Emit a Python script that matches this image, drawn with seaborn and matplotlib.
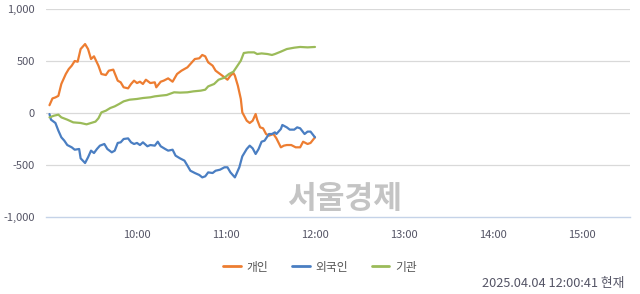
import numpy as np
import pandas as pd
import matplotlib
matplotlib.use("Agg")
import matplotlib.pyplot as plt
import seaborn as sns
from matplotlib.lines import Line2D

# minutes after 09:00 and values
ind_min = [1, 3, 5, 7, 9, 12, 14, 16, 18, 20, 22, 25, 27, 29, 31, 34, 36, 39, 41, 44, 47, 49, 51, 54,
           56, 58, 60, 62, 64, 66, 69, 72, 73, 76, 78, 81, 84, 87, 90, 94, 96, 99, 102, 104, 106, 108,
           111, 113, 116, 119, 121, 123, 125, 126, 128, 130, 131, 134, 136, 138, 140, 141, 143, 145,
           147, 149, 152, 154, 157, 159, 161, 164, 167, 170, 172, 175, 177, 180]
ind_val = [75, 140, 150, 165, 280, 375, 423, 455, 500, 493, 615, 663, 615, 519, 545, 455, 375, 365, 407,
           417, 311, 295, 247, 237, 279, 311, 288, 301, 279, 320, 288, 295, 247, 301, 311, 333, 301, 375,
           407, 439, 471, 519, 526, 558, 545, 487, 455, 407, 375, 343, 320, 359, 385, 359, 263, 135, 6,
           -74, -96, -74, -10, -64, -138, -147, -202, -218, -202, -244, -330, -314, -308, -308, -330,
           -330, -276, -298, -288, -234]

for_min = [1, 2, 5, 7, 9, 11, 13, 16, 18, 21, 22, 25, 27, 29, 31, 33, 35, 38, 40, 43, 45, 47, 49, 51,
           54, 56, 58, 60, 62, 64, 67, 69, 72, 74, 76, 79, 81, 84, 86, 89, 92, 94, 96, 99, 102, 104, 106,
           108, 111, 113, 116, 119, 121, 123, 126, 127, 129, 131, 134, 136, 138, 140, 142, 144, 146, 149,
           151, 153, 154, 157, 158, 161, 163, 166, 168, 170, 173, 175, 177, 180]
for_val = [-10, -64, -96, -170, -234, -266, -308, -330, -353, -346, -436, -481, -426, -362, -385, -346,
           -314, -298, -346, -378, -362, -288, -282, -250, -244, -282, -298, -288, -308, -282, -320,
           -308, -314, -276, -320, -346, -362, -353, -410, -436, -458, -506, -555, -577, -596, -619,
           -609, -571, -577, -555, -545, -522, -522, -571, -619, -587, -522, -417, -346, -314, -340,
           -394, -346, -276, -266, -202, -202, -186, -202, -154, -115, -138, -160, -160, -138, -147,
           -202, -179, -179, -234]

ins_min = [1, 4, 7, 9, 13, 17, 22, 26, 29, 32, 34, 36, 39, 42, 45, 48, 51, 55, 60, 64, 69, 72, 76, 80,
           85, 89, 94, 98, 103, 106, 108, 112, 115, 119, 122, 125, 127, 130, 132, 135, 139, 141, 144,
           148, 151, 153, 157, 161, 166, 170, 175, 180]
ins_val = [-42, -26, -16, -42, -64, -90, -96, -109, -96, -83, -51, 6, 22, 48, 64, 87, 112, 128, 135,
           144, 151, 160, 167, 173, 199, 196, 199, 208, 215, 224, 256, 279, 320, 340, 375, 397, 439,
           503, 577, 583, 583, 567, 573, 567, 558, 567, 590, 615, 628, 635, 631, 635]

series_names = ["개인", "외국인", "기관"]
colors = ["#ED7D31", "#4A7EC2", "#9BBB59"]
tick_minutes = [60, 120, 180, 240, 300, 360]
tick_labels = ["10:00", "11:00", "12:00", "13:00", "14:00", "15:00"]
y_ticks = [-1000, -500, 0, 500, 1000]
y_labels = ["-1,000", "-500", "0", "500", "1,000"]

df = pd.concat([
    pd.DataFrame({"min": ind_min, "val": ind_val, "who": series_names[0]}),
    pd.DataFrame({"min": for_min, "val": for_val, "who": series_names[1]}),
    pd.DataFrame({"min": ins_min, "val": ins_val, "who": series_names[2]}),
], ignore_index=True)

sns.set_theme(style="white")
plt.rcParams["font.family"] = ["Noto Sans CJK KR", "DejaVu Sans"]

fig = plt.figure(figsize=(6.4, 2.94), dpi=100)
ax = fig.add_axes([46 / 640, 1 - 217 / 294, 584 / 640, 208 / 294])

for y in [-500, 0, 500, 1000]:
    ax.axhline(y, color="#d9d9d9", lw=0.9, zorder=0)

sns.lineplot(data=df, x="min", y="val", hue="who", palette=colors, hue_order=series_names,
             lw=1.6, ax=ax, legend=False, estimator=None, sort=True)

ax.set_xlim(-1.35, 392.4)
ax.set_ylim(-1000, 1000)
ax.set_xticks(tick_minutes)
ax.set_xticklabels(tick_labels)
ax.set_yticks(y_ticks)
ax.set_yticklabels(y_labels)
ax.set_xlabel("")
ax.set_ylabel("")
for s in ["top", "right", "left"]:
    ax.spines[s].set_visible(False)
ax.spines["bottom"].set_color("#c5d3e8")
ax.spines["bottom"].set_linewidth(1.0)
ax.tick_params(axis="x", direction="out", length=5, width=1, color="#c5d3e8",
               labelsize=8, labelcolor="#555566", pad=4)
ax.tick_params(axis="y", length=0, labelsize=8, labelcolor="#555566", pad=8)

# watermark
fig.text(345 / 640, 1 - 199 / 294, "서울경제", fontsize=22.5, fontweight="bold",
         color="#c4c4c4", ha="center", va="center")

# legend
handles = [Line2D([0], [0], color=c, lw=2) for c in colors]
fig.legend(handles, series_names, loc="center", bbox_to_anchor=(0.5, 1 - 267 / 294), ncol=3,
           frameon=False, fontsize=8.5, handlelength=1.5, handletextpad=0.5, columnspacing=2.0,
           labelcolor="#555555")

fig.text(624 / 640, 1 - 284 / 294, "2025.04.04 12:00:41 현재", fontsize=9.2, color="#555566",
         ha="right", va="center")

fig.savefig("out.png", dpi=100)
